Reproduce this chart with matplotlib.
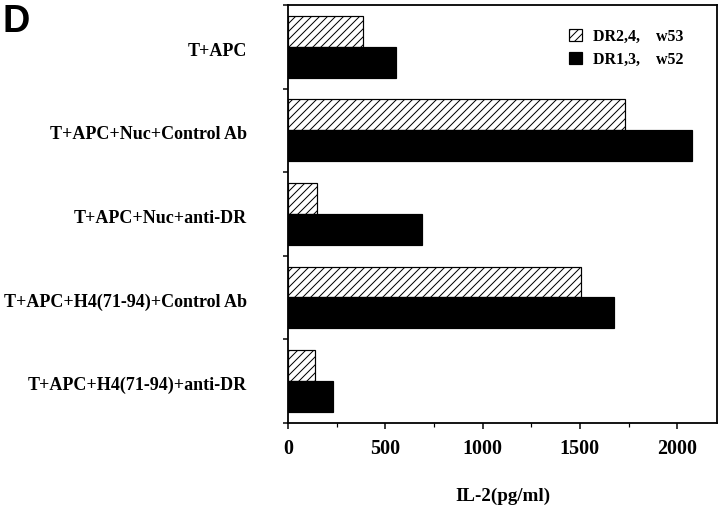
import matplotlib
matplotlib.use("Agg")
import matplotlib.pyplot as plt
import numpy as np

# data
conditions = [
    "T+APC",
    "T+APC+Nuc+Control Ab",
    "T+APC+Nuc+anti-DR",
    "T+APC+H4(71-94)+Control Ab",
    "T+APC+H4(71-94)+anti-DR",
]
dr24_w53 = [385, 1732, 149, 1506, 139]
dr13_w52 = [555, 2076, 689, 1675, 231]
series_labels = ["DR2,4,    w53", "DR1,3,    w52"]
x_ticks = [0, 500, 1000, 1500, 2000]

plt.rcParams["hatch.linewidth"] = 1.0
serif = ["Liberation Serif", "DejaVu Serif"]

# dpi 72 so that one point is one pixel
fig = plt.figure(figsize=(720 / 72, 510 / 72), dpi=72)
ax = fig.add_axes([0.400, 0.171, 0.596, 0.819])

n = len(conditions)
centers = np.arange(n) + 0.5
h = 0.37

ax.barh(centers - 0.185, dr24_w53, height=h, facecolor="white",
        edgecolor="black", hatch="///", linewidth=1.2, label=series_labels[0])
ax.barh(centers + 0.185, dr13_w52, height=h, color="black",
        edgecolor="black", linewidth=1.2, label=series_labels[1])

ax.set_ylim(n, 0)
ax.set_xlim(0, 2205)

# category boundaries as ticks, names at group centres
ax.set_yticks(np.arange(0, n + 1), minor=True)
ax.set_yticks(centers + 0.03)
ax.set_yticklabels(conditions, fontfamily=serif, fontweight="bold", fontsize=18)
ax.tick_params(axis="y", which="major", length=0, pad=41)
ax.tick_params(axis="y", which="minor", length=5, width=1.5, direction="out")

ax.set_xticks(x_ticks)
ax.set_xticks(np.arange(250, 2205, 500), minor=True)
ax.set_xticklabels([str(v) for v in x_ticks], fontfamily=serif,
                   fontweight="bold", fontsize=20)
ax.tick_params(axis="x", which="major", length=6, width=1.5, direction="out", pad=10)
ax.tick_params(axis="x", which="minor", length=4, width=1.2, direction="out")

ax.set_xlabel("IL-2(pg/ml)", fontfamily=serif, fontweight="bold",
              fontsize=19, labelpad=29)

for s in ax.spines.values():
    s.set_linewidth(1.8)

leg = ax.legend(loc="upper right", frameon=False,
                prop={"family": serif, "weight": "bold", "size": 16},
                handlelength=0.8, handleheight=0.8, handletextpad=0.7,
                labelspacing=0.45, bbox_to_anchor=(0.955, 0.978))

fig.text(0.004, 0.992, "D", fontfamily=["Liberation Sans", "DejaVu Sans"],
         fontweight="bold", fontsize=38, va="top", ha="left")

fig.savefig("out.png", dpi=72)
